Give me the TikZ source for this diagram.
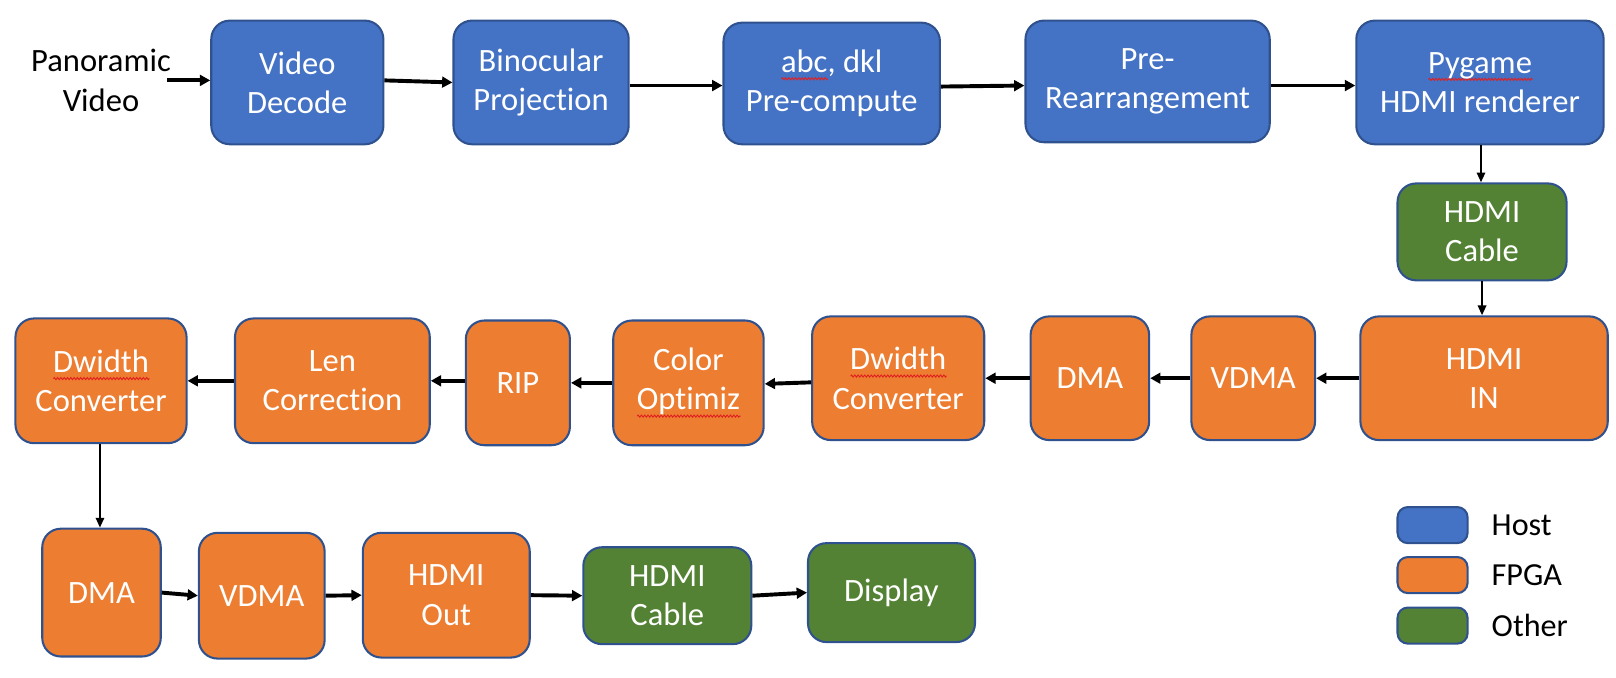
\documentclass[tikz,border=0pt]{standalone}
\usepackage{fontspec}
\setmainfont{Carlito}[Ligatures={NoCommon,NoContextual}]
\usetikzlibrary{arrows.meta,decorations.pathmorphing}
\definecolor{hostc}{HTML}{4472C4}
\definecolor{fpgac}{HTML}{ED7D31}
\definecolor{otherc}{HTML}{548235}
\definecolor{edgec}{HTML}{2F528F}
\definecolor{squigc}{HTML}{E02020}
\newsavebox\sqbox
\newcommand\sq[1]{\sbox\sqbox{#1}\leavevmode\rlap{\raisebox{-3pt}{\tikz[x=1pt,y=1pt,baseline=0pt]\path[draw=squigc,fill=none,sharp corners,line width=0.45pt,decorate,decoration={zigzag,segment length=1.6pt,amplitude=0.5pt}] (0pt,0pt)--(\the\wd\sqbox,0pt);}}\usebox\sqbox}
\tikzset{
  blk/.style={draw=edgec, line width=1pt, rounded corners=9pt, text=white, align=center,
    font=\fontsize{15.8}{19}\selectfont, inner sep=0pt},
  host/.style={blk, fill=hostc},
  fpga/.style={blk, fill=fpgac},
  other/.style={blk, fill=otherc},
  arr/.style={line width=1.9pt, -{Triangle[length=5pt,width=5.2pt]}},
  varr/.style={line width=1.1pt, -{Triangle[length=4.8pt,width=4pt]}},
  lbl/.style={font=\fontsize{15.8}{19}\selectfont, align=center, inner sep=0pt},
  leg/.style={font=\fontsize{15.6}{19}\selectfont, anchor=west, inner sep=0pt}
}
\newcommand\bx[6]{\node[#1, minimum width=#4*0.5pt, minimum height=#5*0.5pt] (#2) at (#3) {#6};}
\begin{document}
\begin{tikzpicture}[x=0.5pt,y=-0.5pt]
\useasboundingbox (0,0) rectangle (1568,657);
% row 1
\node[lbl] (pan) at (98,78) {Panoramic\\Video};
\bx{host}{vd}{288.5,80}{167}{120}{Video\\Decode}
\bx{host}{bp}{525,80}{170}{120}{Binocular\\Projection}
\bx{host}{abc}{807,81}{210}{118}{\sq{abc}, dkl\\Pre-compute}
\bx{host}{pre}{1113.5,79}{237}{118}{Pre-\\Rearrangement}
\bx{host}{pyg}{1436,80}{240}{120}{\sq{Pygame}\\HDMI renderer}
\bx{other}{cab1}{1438,225}{164}{94}{HDMI\\Cable}
% row 2
\bx{fpga}{hin}{1440,367}{240}{120}{HDMI\\IN}
\bx{fpga}{vdma1}{1216,367}{120}{120}{VDMA}
\bx{fpga}{dma1}{1057.5,367}{115}{120}{DMA}
\bx{fpga}{dw1}{871.5,367}{167}{120}{\sq{Dwidth}\\Converter}
\bx{fpga}{col}{668,371.5}{146}{121}{Color\\\sq{Optimiz}}
\bx{fpga}{rip}{502.5,371.5}{101}{121}{RIP}
\bx{fpga}{len}{322.5,369.5}{189}{121}{Len\\Correction}
\bx{fpga}{dw2}{98,369.5}{166}{121}{\sq{Dwidth}\\Converter}
% row 3
\bx{fpga}{dma2}{98.5,575}{115}{124}{DMA}
\bx{fpga}{vdma2}{254,578}{122}{122}{VDMA}
\bx{fpga}{hout}{433,577.5}{162}{121}{HDMI\\Out}
\bx{other}{cab2}{647.5,578}{163}{94}{HDMI\\Cable}
\bx{other}{disp}{865,575}{162}{96}{Display}
% legend
\node[host, minimum width=34pt, minimum height=17.5pt, rounded corners=5pt] (lh) at (1390,509.5) {};
\node[fpga, minimum width=34pt, minimum height=17.5pt, rounded corners=5pt] (lf) at (1390,558) {};
\node[other, minimum width=34pt, minimum height=17.5pt, rounded corners=5pt] (lo) at (1390,607) {};
\node[leg] (th) at (1447,509.5) {Host};
\node[leg] (tf) at (1447,558) {FPGA};
\node[leg] (to) at (1447,607) {Other};
% arrows row 1
\draw[arr] ([xshift=-2pt]pan.east) -- ([yshift=1pt]vd.west);
\draw[arr] ([yshift=1pt]vd.east) -- (bp.west);
\draw[arr] ([yshift=-1.5pt]bp.east) -- ([yshift=-1pt]abc.west);
\draw[arr] ([yshift=-1.5pt]abc.east) -- ([yshift=-2pt]pre.west);
\draw[arr] ([yshift=-2pt]pre.east) -- ([yshift=-1.5pt]pyg.west);
\draw[varr] ([xshift=0.5pt]pyg.south) -- ([xshift=0.5pt]pyg.south |- cab1.north);
\draw[varr] (cab1.south) -- (cab1.south |- hin.north);
% arrows row 2
\draw[arr] (hin.west) -- (vdma1.east);
\draw[arr] (vdma1.west) -- (dma1.east);
\draw[arr] (dma1.west) -- (dw1.east);
\draw[arr] ([yshift=-2pt]dw1.west) -- ([yshift=-0.5pt]col.east);
\draw[arr] (col.west) -- (rip.east);
\draw[arr] ([yshift=1pt]rip.west) -- ([yshift=0pt]len.east);
\draw[arr] (len.west) -- (dw2.east);
\draw[varr] ([xshift=-0.5pt]dw2.south) -- ([xshift=-0.5pt]dw2.south |- dma2.north);
% arrows row 3
\draw[arr] (dma2.east) -- (vdma2.west);
\draw[arr] (vdma2.east) -- (hout.west);
\draw[arr] (hout.east) -- (cab2.west);
\draw[arr] (cab2.east) -- (disp.west);
\end{tikzpicture}
\end{document}
